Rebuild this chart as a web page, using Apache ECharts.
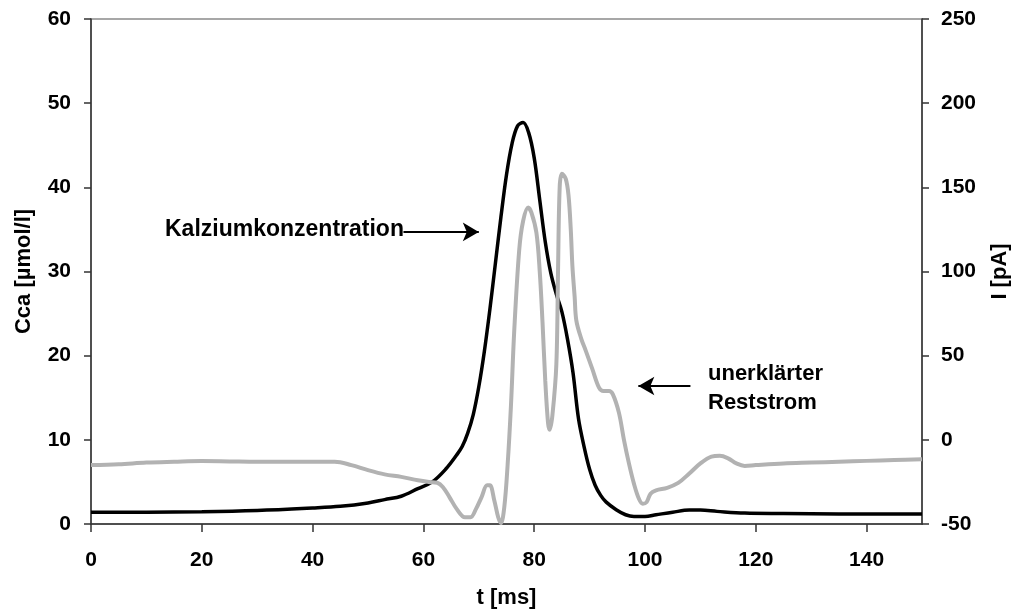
<!DOCTYPE html>
<html>
<head>
<meta charset="utf-8">
<script src="https://cdn.jsdelivr.net/npm/echarts@6/dist/echarts.min.js"></script>
<style>
  html, body { margin: 0; padding: 0; background: #fff; }
  #chart { width: 1019px; height: 614px; }
</style>
</head>
<body>
<div id="chart"></div>
<script>
// Time axis [ms] and calcium concentration [µmol/l]
const tCa = [0, 10, 20, 30, 40, 45, 50, 53, 56, 59, 61.6, 64, 66, 67, 68, 69, 70, 71, 72, 73, 74, 75, 76, 77, 78, 79, 80, 81, 82, 83, 84, 85, 86, 87, 88, 89, 90, 91, 92, 93, 94.8, 96.5, 98, 100, 102, 105, 108, 110, 113, 118, 125, 135, 150];
const cca = [1.4, 1.4, 1.45, 1.6, 1.9, 2.1, 2.5, 2.9, 3.3, 4.2, 5.0, 6.5, 8.2, 9.2, 10.8, 13, 16.3, 20.5, 25.5, 31, 36.5, 41.5, 45.2, 47.3, 47.7, 46.5, 43.5, 38.5, 33.5, 29.8, 27.3, 25.2, 22, 18, 12.5, 9.2, 6.5, 4.6, 3.4, 2.6, 1.7, 1.1, 0.9, 0.9, 1.1, 1.4, 1.65, 1.65, 1.5, 1.3, 1.25, 1.2, 1.2];

// Time axis [ms] and unexplained residual current [pA]
const tI = [0, 5, 10, 15, 20, 25, 30, 35, 40, 44, 47, 50, 53, 56, 59, 61, 62.5, 63.5, 64.7, 66, 67.5, 68.5, 69.5, 70.5, 71.5, 72, 72.8, 73.5, 74, 74.6, 75.2, 75.8, 76.4, 77.3, 78, 78.9, 79.5, 80.4, 81, 81.5, 82, 82.5, 82.8, 83.3, 84, 84.3, 84.6, 85.0, 85.7, 86.2, 86.6, 86.9, 87.3, 87.6, 88.5, 89.3, 90.5, 91.7, 92.5, 93.5, 94.2, 95.3, 96.2, 97.1, 98, 98.9, 99.6, 100.3, 101, 102, 104, 106, 108, 110, 112, 113.5, 115, 116.5, 118, 120, 125, 130, 135, 140, 145, 150];
const current = [-15, -14.5, -13.5, -13, -12.6, -12.8, -13, -13, -13, -13, -15, -18, -20.5, -22, -24, -25, -25.5, -28, -34, -41, -46, -46, -41, -34, -27, -27, -36, -46, -49.5, -40, -15, 20, 65, 113, 130, 138, 135, 123, 100, 70, 35, 10, 6, 15, 45, 100, 150, 158, 155, 145, 125, 103, 85, 71, 60, 53, 42, 31, 29, 29, 27, 16, 0, -14, -26, -35, -38, -37, -32, -30, -28.5, -25.6, -20, -14, -10, -9.5, -11, -14, -15.5, -15, -14, -13.5, -13, -12.5, -12, -11.5];

const caPairs = tCa.map((t, i) => [t, cca[i]]);
const iPairs = tI.map((t, i) => [t, current[i]]);

const font = 'Liberation Sans, Arial, sans-serif';
const axisLine = { show: true, lineStyle: { color: '#333', width: 1.5 } };
const tickStyle = { show: true, inside: false, length: 7, lineStyle: { color: '#333', width: 1.5 } };
const labelStyle = { color: '#000', fontFamily: font, fontWeight: 'bold', fontSize: 21 };
const nameStyle = { color: '#000', fontFamily: font, fontWeight: 'bold', fontSize: 22 };

const chart = echarts.init(document.getElementById('chart'), null, { renderer: 'canvas' });
chart.setOption({
  animation: false,
  backgroundColor: '#fff',
  grid: { left: 91, right: 94, top: 19, bottom: 90, show: true, borderColor: '#8a8a8a', borderWidth: 1.5, containLabel: false },
  xAxis: {
    type: 'value', min: 0, max: 150, interval: 20,
    name: 't [ms]', nameLocation: 'middle', nameGap: 63,
    nameTextStyle: nameStyle,
    axisLine: axisLine, axisTick: Object.assign({}, tickStyle, { length: 8 }),
    axisLabel: Object.assign({ margin: 26, showMaxLabel: false }, labelStyle),
    splitLine: { show: false }
  },
  yAxis: [
    {
      type: 'value', min: 0, max: 60, interval: 10, position: 'left',
      name: 'Cca [µmol/l]', nameLocation: 'middle', nameGap: 56, nameRotate: 90,
      nameTextStyle: nameStyle,
      axisLine: axisLine, axisTick: tickStyle,
      axisLabel: Object.assign({ margin: 20 }, labelStyle),
      splitLine: { show: false }
    },
    {
      type: 'value', min: -50, max: 250, interval: 50, position: 'right',
      name: 'I [pA]', nameLocation: 'middle', nameGap: 67, nameRotate: 90,
      nameTextStyle: nameStyle,
      axisLine: axisLine, axisTick: tickStyle,
      axisLabel: Object.assign({ margin: 19 }, labelStyle),
      splitLine: { show: false }
    }
  ],
  series: [
    {
      name: 'Kalziumkonzentration', type: 'line', yAxisIndex: 0,
      data: caPairs, smooth: 0.35, showSymbol: false,
      lineStyle: { color: '#000', width: 3.5 },
      markLine: {
        silent: true, symbol: ['none', 'arrow'], symbolSize: [14, 16],
        lineStyle: { color: '#000', width: 2, type: 'solid' },
        label: { show: false },
        data: [[{ coord: [56.4, 34.7] }, { coord: [70.0, 34.7] }]]
      }
    },
    {
      name: 'unerklärter Reststrom', type: 'line', yAxisIndex: 1,
      data: iPairs, smooth: 0.35, showSymbol: false,
      lineStyle: { color: '#b2b2b2', width: 4 },
      markLine: {
        silent: true, symbol: ['none', 'arrow'], symbolSize: [14, 16],
        lineStyle: { color: '#000', width: 2, type: 'solid' },
        label: { show: false },
        data: [[{ coord: [108.2, 32] }, { coord: [98.8, 32] }]]
      }
    }
  ],
  graphic: [
    { type: 'text', left: 165, top: 218, style: { text: 'Kalziumkonzentration', fill: '#000', font: 'bold 23px Liberation Sans, Arial, sans-serif' } },
    { type: 'text', left: 708, top: 359, style: { text: 'unerklärter\nReststrom', fill: '#000', font: 'bold 22px Liberation Sans, Arial, sans-serif', lineHeight: 29 } }
  ]
});
</script>
</body>
</html>
